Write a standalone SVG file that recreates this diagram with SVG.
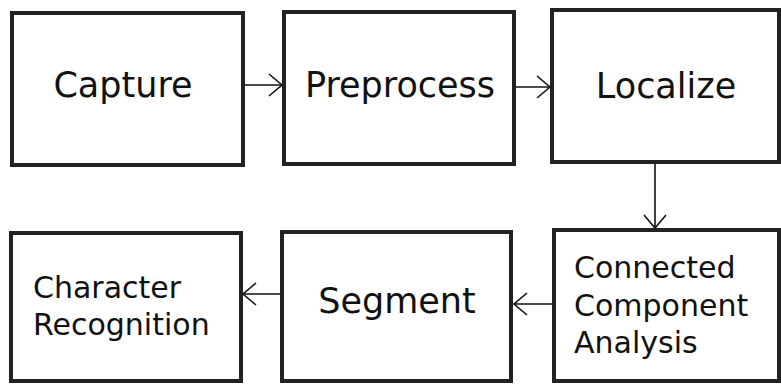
<svg xmlns="http://www.w3.org/2000/svg" width="781" height="385" viewBox="0 0 781 385">
  <style>
    .box { fill: #ffffff; stroke: #222222; stroke-width: 4; }
    .lbl { font-family: "DejaVu Sans", sans-serif; fill: #111111; }
    .big { font-size: 35px; text-anchor: middle; }
    .small { font-size: 30px; }
    .edge { fill: none; stroke: #111111; stroke-width: 1.6; }
  </style>
  <defs>
    <marker id="arrow" markerUnits="userSpaceOnUse" markerWidth="16" markerHeight="24" refX="14" refY="12" orient="auto">
      <path d="M1,1 L14,12 L1,23" fill="none" stroke="#111111" stroke-width="1.6"/>
    </marker>
  </defs>
  <rect width="781" height="385" fill="#ffffff"/>

  <g id="connectors">
    <line class="edge" x1="245" y1="85" x2="282" y2="85" marker-end="url(#arrow)"/>
    <line class="edge" x1="516" y1="87" x2="550" y2="87" marker-end="url(#arrow)"/>
    <line class="edge" x1="655" y1="163" x2="655" y2="228" marker-end="url(#arrow)"/>
    <line class="edge" x1="552" y1="304" x2="514" y2="304" marker-end="url(#arrow)"/>
    <line class="edge" x1="281" y1="294" x2="243" y2="294" marker-end="url(#arrow)"/>
  </g>

  <g id="capture">
    <rect class="box" x="12" y="13" width="231" height="152"/>
    <text class="lbl big" x="123" y="97">Capture</text>
  </g>
  <g id="preprocess">
    <rect class="box" x="284" y="12" width="230" height="152"/>
    <text class="lbl big" x="400" y="97">Preprocess</text>
  </g>
  <g id="localize">
    <rect class="box" x="552" y="10" width="227" height="152"/>
    <text class="lbl big" x="666" y="98">Localize</text>
  </g>
  <g id="connected-component-analysis">
    <rect class="box" x="554" y="230" width="225" height="151"/>
    <text class="lbl small" x="574" y="278">Connected</text>
    <text class="lbl small" x="574" y="316">Component</text>
    <text class="lbl small" x="574" y="353">Analysis</text>
  </g>
  <g id="segment">
    <rect class="box" x="282" y="232" width="229" height="149"/>
    <text class="lbl big" x="397" y="313">Segment</text>
  </g>
  <g id="character-recognition">
    <rect class="box" x="11" y="233" width="230" height="148"/>
    <text class="lbl small" x="33" y="298">Character</text>
    <text class="lbl small" x="33" y="335">Recognition</text>
  </g>
</svg>
